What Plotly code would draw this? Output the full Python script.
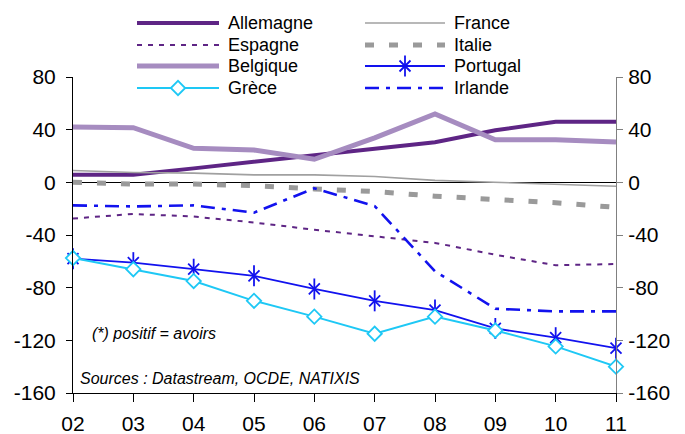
import plotly.graph_objects as go

years = ["02", "03", "04", "05", "06", "07", "08", "09", "10", "11"]
allemagne = [5.7, 5.7, 10.6, 15.5, 20.6, 25.8, 30.5, 39.5, 46, 46]
france = [9, 7.5, 7, 5.7, 5.7, 4.4, 1.5, 0, -1, -3]
espagne = [-27.5, -24, -26, -30.5, -36, -41, -46, -55, -63, -62]
italie = [0, -1.3, -1.3, -2.5, -5, -7, -10.5, -13, -15.5, -19]
belgique = [42, 41.5, 25.8, 24.5, 17.5, 33.8, 51.9, 32.3, 32.3, 30.7]
portugal = [-58, -61, -66, -71, -81, -90, -97, -111, -118, -126]
grece = [-57.5, -66, -75, -90, -102, -115, -102, -112.5, -124.6, -140]
irlande = [-17.5, -18.3, -17.5, -23, -4.5, -18, -67.5, -96, -98, -98]

y_ticks = [-160, -120, -80, -40, 0, 40, 80]
y_tick_text = ["-160", "-120", "-80", "-40", "0", "40", "80"]

# page is rendered with an 8px body margin: the figure is sized/offset for it
OFF = 8
PW, PH = 685, 434
W, H = PW - OFF, PH - OFF
L, R, T, B = 73 - OFF, 616 - OFF, 77 - OFF, 393 - OFF
FONT = "Liberation Sans, Arial, sans-serif"

PURPLE = "#5E2585"
LPURPLE = "#A68CC0"
GRAY = "#A0A0A0"
BLUE = "#1212EE"
CYAN = "#1EC8F5"

star_a = dict(symbol="x-thin-open", size=11, color=BLUE, line=dict(color=BLUE, width=1.8))
star_b = dict(symbol="line-ns-open", size=15, color=BLUE, line=dict(color=BLUE, width=1.8))

series = [
    dict(name="Allemagne", y=allemagne, line=dict(color=PURPLE, width=4), markers=[]),
    dict(name="France", y=france, line=dict(color=GRAY, width=1.6), markers=[]),
    dict(name="Espagne", y=espagne, line=dict(color=PURPLE, width=2, dash="5px,6px"), markers=[]),
    dict(name="Italie", y=italie, line=dict(color="#9A9A9A", width=5, dash="9px,15px"), markers=[]),
    dict(name="Belgique", y=belgique, line=dict(color=LPURPLE, width=5), markers=[]),
    dict(name="Portugal", y=portugal, line=dict(color=BLUE, width=1.8), markers=[star_a, star_b]),
    dict(name="Grèce", y=grece, line=dict(color=CYAN, width=2),
         markers=[dict(symbol="diamond", size=11, color="white", line=dict(color=CYAN, width=1.8))]),
    dict(name="Irlande", y=irlande, line=dict(color=BLUE, width=2.6, dash="14px,7px,4px,7px"),
         markers=[], yaxis="y2"),
]

fig = go.Figure()
for s in series:
    ya = s.get("yaxis", "y")
    fig.add_trace(go.Scatter(x=years, y=s["y"], name=s["name"], mode="lines", line=s["line"],
                             xaxis="x", yaxis=ya, hoverinfo="skip"))
    for m in s["markers"]:
        fig.add_trace(go.Scatter(x=years, y=s["y"], name=s["name"], mode="markers", marker=m,
                                 xaxis="x", yaxis=ya, hoverinfo="skip", cliponaxis=False))

# manual legend (page-pixel helper axis)
rows = [23, 45, 66, 88]
cols = [(137, 219, 226), (365, 445, 452)]
for i, s in enumerate(series):
    r, c = divmod(i, 2)
    x0, x1, xt = cols[c]
    yy = rows[r]
    fig.add_trace(go.Scatter(x=[x0, x1], y=[yy, yy], mode="lines", line=s["line"],
                             xaxis="x2", yaxis="y3", hoverinfo="skip"))
    for m in s["markers"]:
        fig.add_trace(go.Scatter(x=[(x0 + x1) / 2], y=[yy], mode="markers", marker=m,
                                 xaxis="x2", yaxis="y3", hoverinfo="skip", cliponaxis=False))
    fig.add_annotation(x=xt, y=yy, xref="x2", yref="y3", text=s["name"], showarrow=False,
                       xanchor="left", yanchor="middle", font=dict(size=18, color="black", family=FONT))

fig.add_annotation(x=90, y=333, xref="x2", yref="y3", text="<i>(*) positif = avoirs</i>",
                   showarrow=False, xanchor="left", yanchor="middle",
                   font=dict(size=16, color="black", family=FONT))
fig.add_annotation(x=78, y=378, xref="x2", yref="y3", text="<i>Sources : Datastream, OCDE, NATIXIS</i>",
                   showarrow=False, xanchor="left", yanchor="middle",
                   font=dict(size=16, color="black", family=FONT))

fig.update_layout(
    width=W, height=H,
    margin=dict(l=0, r=0, t=0, b=0, autoexpand=False),
    paper_bgcolor="white", plot_bgcolor="rgba(0,0,0,0)",
    showlegend=False,
    font=dict(family=FONT, color="black"),
    xaxis=dict(domain=[L / W, R / W], type="category", range=[0, 9], anchor="y",
               showline=True, linecolor="black", linewidth=1, ticks="outside", ticklen=8,
               tickcolor="black", tickfont=dict(size=21), showgrid=False, zeroline=False,
               ticklabelstandoff=4, automargin=False),
    yaxis=dict(domain=[(H - B) / H, (H - T) / H], range=[-160, 80], tickvals=y_ticks,
               ticktext=y_tick_text,
               showline=True, linecolor="black", linewidth=1, ticks="outside", ticklen=6,
               tickcolor="black", tickfont=dict(size=21), showgrid=False,
               zeroline=True, zerolinecolor="black", zerolinewidth=1, anchor="x",
               ticklabelstandoff=6, automargin=False),
    yaxis2=dict(overlaying="y", side="right", range=[-160, 80], tickvals=y_ticks,
                ticktext=y_tick_text,
                showline=True, linecolor="#808080", linewidth=1, ticks="outside", ticklen=6,
                tickcolor="#808080", tickfont=dict(size=21), showgrid=False, zeroline=False,
                anchor="x", ticklabelstandoff=1, automargin=False),
    xaxis2=dict(domain=[0, 1], range=[OFF, PW], visible=False, anchor="y3", fixedrange=True,
                automargin=False),
    yaxis3=dict(domain=[0, 1], range=[PH, OFF], visible=False, anchor="x2", fixedrange=True,
                automargin=False),
)

fig.write_html("out.html")
